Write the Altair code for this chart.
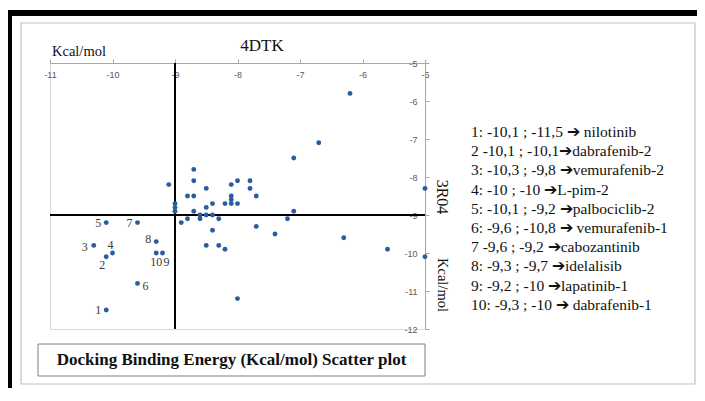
import altair as alt
import pandas as pd

# ---------------- data (kcal/mol) ----------------
label_ids = ["1", "2", "3", "4", "5", "6", "7", "8", "9", "10"]
lab_4dtk = [-10.1, -10.1, -10.3, -10.0, -10.1, -9.6, -9.6, -9.3, -9.2, -9.3]
lab_3r04 = [-11.5, -10.1, -9.8, -10.0, -9.2, -10.8, -9.2, -9.7, -10.0, -10.0]

other_4dtk = [-6.2, -6.7, -7.1, -9.1, -8.7, -8.7, -8.5, -8.1, -8.0, -7.8,
              -7.8, -7.7, -8.8, -8.7, -8.1, -8.1, -8.1, -8.2, -8.0, -8.4,
              -8.5, -8.7, -9.0, -9.0, -9.0, -8.6, -8.5, -8.4, -8.6, -8.3,
              -8.8, -8.9, -8.4, -8.5, -8.3, -8.2, -7.7, -7.4, -7.2, -7.1,
              -6.3, -5.6, -5.0, -5.0, -8.0]
other_3r04 = [-5.8, -7.1, -7.5, -8.2, -7.8, -8.1, -8.3, -8.2, -8.1, -8.1,
              -8.3, -8.5, -8.5, -8.5, -8.5, -8.6, -8.7, -8.7, -8.7, -8.7,
              -8.8, -8.9, -8.7, -8.8, -8.9, -9.0, -9.0, -9.0, -9.1, -9.1,
              -9.1, -9.2, -9.4, -9.8, -9.8, -9.9, -9.3, -9.5, -9.1, -8.9,
              -9.6, -9.9, -8.3, -10.1, -11.2]

x_ticks = [-11, -10, -9, -8, -7, -6, -5]
y_ticks = [-5, -6, -7, -8, -9, -10, -11, -12]
cross_value = -9

ARROW = "\u2794"
legend_lines = [
    f"1: -10,1 ; -11,5 {ARROW} nilotinib",
    f"2 -10,1 ; -10,1{ARROW}dabrafenib-2",
    f"3: -10,3 ; -9,8 {ARROW}vemurafenib-2",
    f"4: -10 ; -10 {ARROW}L-pim-2",
    f"5: -10,1 ; -9,2 {ARROW}palbociclib-2",
    f"6: -9,6 ; -10,8 {ARROW} vemurafenib-1",
    f"7 -9,6 ; -9,2 {ARROW}cabozantinib",
    f"8: -9,3 ; -9,7 {ARROW}idelalisib",
    f"9: -9,2 ; -10 {ARROW}lapatinib-1",
    f"10: -9,3 ; -10 {ARROW} dabrafenib-1",
]

x_name = "4DTK"
y_name = "3R04"
unit = "Kcal/mol"
chart_title = "Docking Binding Energy (Kcal/mol) Scatter plot"

# ---------------- tables ----------------
lab_df = pd.DataFrame({"id": label_ids, "x": lab_4dtk, "y": lab_3r04})
pts_df = pd.DataFrame({"x": lab_4dtk + other_4dtk, "y": lab_3r04 + other_3r04})
one = pd.DataFrame({"a": [0]})

SERIF = "Liberation Serif"
SANS = "Liberation Sans"
BLUE = "#2a5d9f"
AX = "#a6a6a6"

xs = alt.Scale(domain=[-11, -5], nice=False, zero=False)
ys = alt.Scale(domain=[-12, -5], nice=False, zero=False)

x_axis = alt.Axis(orient="top", values=x_ticks, tickSize=4, tickColor=AX,
                  domainColor=AX, labelPadding=-15, labelBaseline="middle",
                  labelFont=SANS, labelFontSize=9, labelColor="#595959",
                  labelExpr="'' + datum.value", labelFlush=False,
                  labelOverlap=False, grid=False, title=None)
y_axis = alt.Axis(orient="right", values=y_ticks, tickSize=4, tickColor=AX,
                  domainColor=AX, labelPadding=-12, labelAlign="right",
                  labelBaseline="middle", labelFont=SANS, labelFontSize=9,
                  labelColor="#595959", labelExpr="'' + datum.value",
                  labelFlush=False, labelOverlap=False, grid=False, title=None)

base_one = alt.Chart(one)

inner_frame = base_one.mark_rect(fill=None, stroke="#b7c4ce", strokeWidth=1.2).encode(
    x=alt.value(-29), x2=alt.value(645), y=alt.value(-40), y2=alt.value(321))
black_top = base_one.mark_rect(color="black").encode(
    x=alt.value(-42), x2=alt.value(647), y=alt.value(-53), y2=alt.value(-47))
black_left = base_one.mark_rect(color="black").encode(
    x=alt.value(-42), x2=alt.value(-38), y=alt.value(-53), y2=alt.value(325))
title_box = base_one.mark_rect(fill="white", stroke="#7f7f7f", strokeWidth=1).encode(
    x=alt.value(-12), x2=alt.value(375), y=alt.value(281), y2=alt.value(313))
title_text = base_one.mark_text(font=SERIF, fontSize=17, fontWeight="bold",
                                color="#111111", align="center", baseline="middle").encode(
    x=alt.value(181.5), y=alt.value(297), text=alt.value(chart_title))

vrule = base_one.mark_rule(color="black", strokeWidth=2).encode(
    x=alt.X(datum=cross_value, type="quantitative", scale=xs, axis=x_axis))
hrule = base_one.mark_rule(color="black", strokeWidth=2).encode(
    y=alt.Y(datum=cross_value, type="quantitative", scale=ys, axis=y_axis))

points = alt.Chart(pts_df).mark_circle(size=24, color=BLUE, opacity=1).encode(
    x=alt.X("x:Q", scale=xs, axis=x_axis),
    y=alt.Y("y:Q", scale=ys, axis=y_axis),
)


def labels(ids, dx, dy, align):
    return alt.Chart(lab_df).transform_filter(
        alt.FieldOneOfPredicate(field="id", oneOf=ids)
    ).mark_text(font=SERIF, fontSize=12, color="#3a3a3a", dx=dx, dy=dy,
                align=align, baseline="middle").encode(
        x=alt.X("x:Q", scale=xs, axis=x_axis),
        y=alt.Y("y:Q", scale=ys, axis=y_axis),
        text="id:N",
    )


lab_layers = [
    labels(["1", "5", "7"], -5, 0, "right"),
    labels(["3"], -6, 2, "right"),
    labels(["8"], -5, -3, "right"),
    labels(["2"], -4, 8, "center"),
    labels(["4"], -2, -8, "center"),
    labels(["10"], 0, 9, "center"),
    labels(["9"], 4, 9, "center"),
    labels(["6"], 5, 3, "left"),
]

t_x = base_one.mark_text(font=SERIF, fontSize=17, color="#111111",
                         align="center", baseline="middle").encode(
    x=alt.value(212), y=alt.value(-17), text=alt.value(x_name))
t_unit_top = base_one.mark_text(font=SERIF, fontSize=14.5, color="#111111",
                                align="left", baseline="middle").encode(
    x=alt.value(2), y=alt.value(-11), text=alt.value(unit))
t_y = base_one.mark_text(font=SERIF, fontSize=16, color="#111111", angle=90,
                         align="center", baseline="middle").encode(
    x=alt.value(392), y=alt.value(134), text=alt.value(y_name))
t_unit_right = base_one.mark_text(font=SERIF, fontSize=14.5, color="#111111", angle=90,
                                  align="center", baseline="middle").encode(
    x=alt.value(392), y=alt.value(222), text=alt.value(unit))
legend_text = base_one.mark_text(font=SERIF, fontSize=15.5, color="#111111",
                                 align="left", baseline="top", lineHeight=19.2).encode(
    x=alt.value(421), y=alt.value(62), text=alt.value(legend_lines))

chart = alt.layer(
    inner_frame, black_top, black_left, title_box, title_text,
    vrule, hrule, points, *lab_layers,
    t_x, t_unit_top, t_y, t_unit_right, legend_text,
).properties(
    width=375, height=266,
    padding={"left": 42, "top": 55, "right": 272, "bottom": 59},
    autosize=alt.AutoSizeParams(type="none"),
    background="white",
).configure_view(stroke="#d9d9d9", strokeWidth=1)

chart.save("out.html", embed_options={"renderer": "svg", "actions": False})
